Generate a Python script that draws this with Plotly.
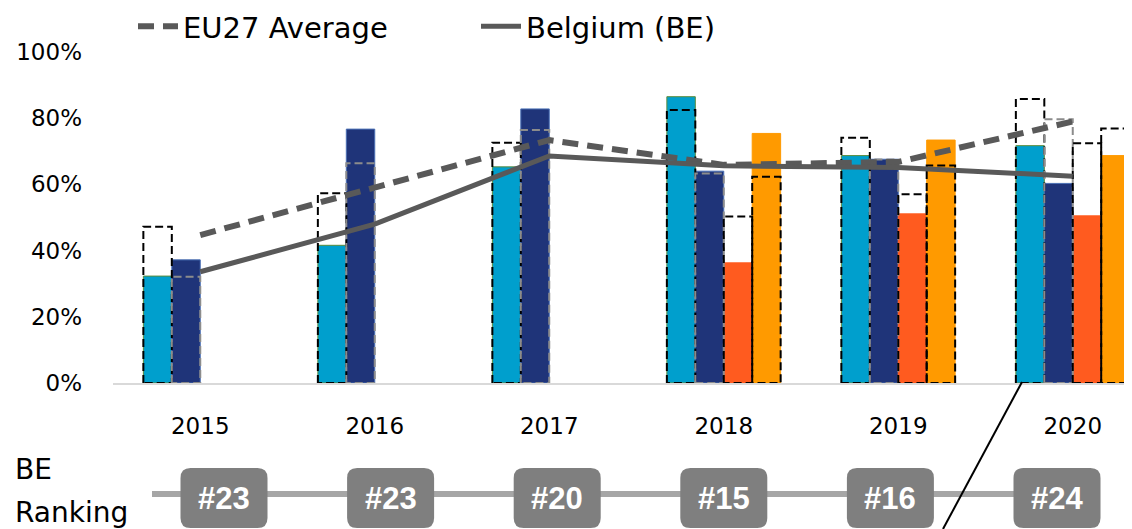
import plotly.graph_objects as go

# ---------------- data ----------------
years = ["2015", "2016", "2017", "2018", "2019", "2020"]
be_ind1 = [32.3, 41.6, 65.3, 86.5, 68.7, 71.7]
be_ind2 = [37.2, 76.7, 82.8, 64.0, 67.6, 60.3]
be_ind3 = [None, None, None, 36.3, 51.1, 50.5]
be_ind4 = [None, None, None, 75.4, 73.4, 68.7]
eu_ind1 = [47.2, 57.3, 72.6, 82.5, 74.1, 85.8]
eu_ind2 = [32.1, 66.4, 76.4, 63.3, 67.5, 79.7]
eu_ind3 = [None, None, None, 50.3, 57.0, 72.4]
eu_ind4 = [None, None, None, 62.3, 65.7, 76.9]
eu_avg = [44.7, 59.2, 73.4, 65.9, 66.8, 79.0]
be_avg = [33.6, 48.0, 68.6, 65.6, 65.1, 62.5]
rankings = ["#23", "#23", "#20", "#15", "#16", "#24"]

# ---------------- style ----------------
FONT = "DejaVu Sans"
W = 0.163
offsets = [-2 * W, -W, 0, W]
bar_colors = ["#009FCD", "#1F3479", "#FF5B1F", "#FF9A00"]
bar_lines = ["#5B8A3A", "#4A6FB5", "#FF5B1F", "#FF9A00"]
box_colors = ["#000000", "#8C8C8C", "#000000", "#000000"]
idx = list(range(len(years)))

fig = go.Figure()

be_series = [be_ind1, be_ind2, be_ind3, be_ind4]
eu_series = [eu_ind1, eu_ind2, eu_ind3, eu_ind4]

for k, ser in enumerate(be_series):
    fig.add_trace(go.Bar(
        x=idx, y=ser, width=W, offset=offsets[k],
        marker=dict(color=bar_colors[k], line=dict(color=bar_lines[k], width=1)),
        showlegend=False, hoverinfo="skip"))

for k, ser in enumerate(eu_series):
    xs, ys = [], []
    for i, v in zip(idx, ser):
        if v is None:
            continue
        x0 = i + offsets[k]
        x1 = x0 + W
        xs += [x0, x0, x1, x1, x0, None]
        ys += [0, v, v, 0, 0, None]
    fig.add_trace(go.Scatter(
        x=xs, y=ys, mode="lines",
        line=dict(color=box_colors[k], width=2, dash="8px,4px"),
        showlegend=False, hoverinfo="skip"))

fig.add_trace(go.Scatter(
    x=idx, y=eu_avg, mode="lines", name="EU27 Average",
    line=dict(color="#595959", width=6, dash="16px,9px")))
fig.add_trace(go.Scatter(
    x=idx, y=be_avg, mode="lines", name="Belgium (BE)",
    line=dict(color="#595959", width=5)))

# ---------------- layout geometry ----------------
OFF = 8  # page body margin
L, T, PW, PH = 113 - OFF, 52 - OFF, 1019, 331
step = 174.5
xmax = -0.5 + PW / step


def px_x(p):
    return (p - OFF - L) / PW


def px_y(p):
    return (T + PH - (p - OFF)) / PH


shapes = []
shapes.append(dict(type="line", xref="paper", yref="paper",
                   x0=px_x(152), x1=px_x(1100), y0=px_y(494), y1=px_y(494),
                   line=dict(color="#A6A6A6", width=6), layer="above"))
shapes.append(dict(type="line", xref="paper", yref="paper",
                   x0=px_x(1022), y0=px_y(382), x1=px_x(943), y1=px_y(529),
                   line=dict(color="#000000", width=2), layer="above"))

bw, bh, r = 87, 60, 10
rank_x0, rank_step, rank_y = 224, 166.6, 498
rr_path = (f"M {-bw/2 + r},{-bh/2} L {bw/2 - r},{-bh/2} Q {bw/2},{-bh/2} {bw/2},{-bh/2 + r} "
           f"L {bw/2},{bh/2 - r} Q {bw/2},{bh/2} {bw/2 - r},{bh/2} "
           f"L {-bw/2 + r},{bh/2} Q {-bw/2},{bh/2} {-bw/2},{bh/2 - r} "
           f"L {-bw/2},{-bh/2 + r} Q {-bw/2},{-bh/2} {-bw/2 + r},{-bh/2} Z")
annotations = []
for j, rk in enumerate(rankings):
    cx = rank_x0 + j * rank_step
    shapes.append(dict(type="path", xref="paper", yref="paper",
                       xsizemode="pixel", ysizemode="pixel",
                       xanchor=px_x(cx), yanchor=px_y(rank_y),
                       path=rr_path, fillcolor="#7F7F7F",
                       line=dict(width=0), layer="above"))
    annotations.append(dict(text=f"<b>{rk}</b>", xref="paper", yref="paper",
                            x=px_x(cx), y=px_y(rank_y), showarrow=False,
                            xanchor="center", yanchor="middle",
                            font=dict(family="Liberation Sans Narrow, Liberation Sans", size=31,
                                      color="white")))

annotations.append(dict(text="BE", xref="paper", yref="paper", x=px_x(13), y=px_y(469),
                        xanchor="left", yanchor="middle", showarrow=False,
                        font=dict(family=FONT, size=28, color="#000000")))
annotations.append(dict(text="Ranking", xref="paper", yref="paper", x=px_x(13), y=px_y(512),
                        xanchor="left", yanchor="middle", showarrow=False,
                        font=dict(family=FONT, size=28, color="#000000")))

fig.update_layout(
    width=1132, height=529,
    margin=dict(l=L, r=1132 - L - PW, t=T, b=529 - T - PH, autoexpand=False),
    paper_bgcolor="white", plot_bgcolor="white",
    font=dict(family=FONT, color="#000000"),
    barmode="overlay",
    shapes=shapes, annotations=annotations,
    legend=dict(orientation="h", x=px_x(133), y=px_y(1), xanchor="left", yanchor="top",
                font=dict(family=FONT, size=29, color="#000000"),
                entrywidth=288, bgcolor="rgba(0,0,0,0)", itemwidth=40),
    xaxis=dict(range=[-0.5, xmax], tickmode="array", tickvals=idx, ticktext=years,
               showgrid=False, zeroline=False, showline=True, linecolor="#D9D9D9",
               linewidth=1.5, ticks="", ticklabelstandoff=22,
               tickfont=dict(family=FONT, size=23, color="#000000")),
    yaxis=dict(range=[0, 100], dtick=20, ticksuffix="%", showgrid=False, zeroline=False,
               showline=False, ticks="", ticklabelstandoff=30,
               tickfont=dict(family=FONT, size=23, color="#000000")),
)

fig.write_html("out.html")
